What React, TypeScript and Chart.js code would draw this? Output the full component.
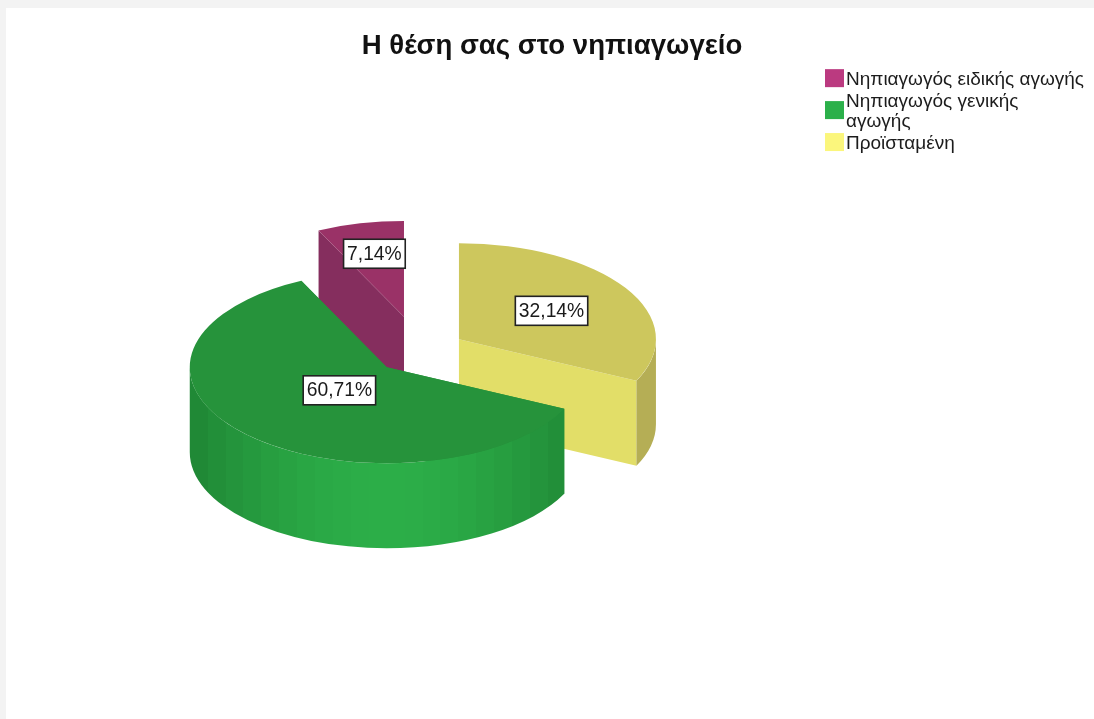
import React, { useEffect, useRef } from "react";
import { Chart, registerables } from "chart.js";

Chart.register(...registerables);

const TITLE = "Η θέση σας στο νηπιαγωγείο";
const LEGEND_LINES = [
  ["Νηπιαγωγός ειδικής αγωγής"],
  ["Νηπιαγωγός γενικής", "αγωγής"],
  ["Προϊσταμένη"],
];
const LEGEND_COLORS = ["#bb3a80", "#2bb04a", "#fbf67c"];

// Clockwise from 12 o'clock
const SLICE_NAMES = ["Προϊσταμένη", "Νηπιαγωγός γενικής αγωγής", "Νηπιαγωγός ειδικής αγωγής"];
const SLICE_VALUES = [32.14, 60.71, 7.14];

const TOP_COLORS = ["#cdc75d", "#26933b", "#9a3267"];
const FACE_COLORS = ["#e2de68", "#26933b", "#852e5e"];
const WALL_DARK = ["#b5ae55", "#1f8635", "#852e5e"];
const WALL_LIGHT = ["#b5ae55", "#2cae48", "#852e5e"];

const EXPLODE = [46, 47, 72];
const LABEL_FRACTION = [0.555, 0.34, 0.675];
const DRAW_ORDER = [2, 0, 1];

const TILT = 0.487;
const DEPTH = 85;
const RADIUS = 197;
const FONT = '"Liberation Sans", Arial, sans-serif';

function hexMix(a: string, b: string, t: number) {
  const p = (h: string, i: number) => parseInt(h.slice(i, i + 2), 16);
  const c = [1, 3, 5].map((i) => Math.round(p(a, i) + (p(b, i) - p(a, i)) * t));
  return `rgb(${c[0]},${c[1]},${c[2]})`;
}

const pie3d = {
  id: "pie3d",
  beforeDraw(chart: any) {
    // title is centred on the whole canvas, not on the plot area
    chart.titleBlock.left = 0;
    chart.titleBlock.right = chart.width;
  },
  beforeDatasetDraw(chart: any, args: any) {
    const ctx: CanvasRenderingContext2D = chart.ctx;
    const arcs = args.meta.data;
    const geo = arcs.map((el: any, i: number) => {
      const p = el.getProps(["x", "y", "startAngle", "endAngle", "outerRadius"], true);
      const mid = (p.startAngle + p.endAngle) / 2;
      return {
        ...p,
        mid,
        ax: p.x + Math.cos(mid) * EXPLODE[i],
        ay: p.y + Math.sin(mid) * EXPLODE[i] * TILT,
      };
    });

    const edge = (g: any, a: number) => [
      g.ax + Math.cos(a) * g.outerRadius,
      g.ay + Math.sin(a) * g.outerRadius * TILT,
    ];

    // sides, back to front
    DRAW_ORDER.forEach((i) => {
      const g = geo[i];
      ctx.fillStyle = FACE_COLORS[i];
      [g.startAngle, g.endAngle].forEach((a: number) => {
        const [ex, ey] = edge(g, a);
        ctx.beginPath();
        ctx.moveTo(g.ax, g.ay);
        ctx.lineTo(ex, ey);
        ctx.lineTo(ex, ey + DEPTH);
        ctx.lineTo(g.ax, g.ay + DEPTH);
        ctx.closePath();
        ctx.fill();
      });
      const a0 = Math.max(g.startAngle, 0);
      const a1 = Math.min(g.endAngle, Math.PI);
      if (a1 > a0) {
        const x0 = g.ax - g.outerRadius;
        const x1 = g.ax + g.outerRadius;
        const grad = ctx.createLinearGradient(x0, 0, x1, 0);
        const bands = 22;
        for (let b = 0; b < bands; b++) {
          const t = (b + 0.5) / bands;
          const c = hexMix(WALL_DARK[i], WALL_LIGHT[i], Math.sin(Math.PI * t));
          grad.addColorStop(b / bands, c);
          grad.addColorStop((b + 1) / bands, c);
        }
        ctx.fillStyle = grad;
        ctx.beginPath();
        ctx.ellipse(g.ax, g.ay, g.outerRadius, g.outerRadius * TILT, 0, a0, a1, false);
        ctx.ellipse(g.ax, g.ay + DEPTH, g.outerRadius, g.outerRadius * TILT, 0, a1, a0, true);
        ctx.closePath();
        ctx.fill();
      }
    });

    // top surfaces: the library's own arc elements, projected and exploded
    arcs.forEach((el: any, i: number) => {
      const g = geo[i];
      ctx.save();
      ctx.translate(g.ax, g.ay);
      ctx.scale(1, TILT);
      ctx.translate(-g.x, -g.y);
      el.draw(ctx);
      ctx.restore();
    });

    // value labels
    ctx.font = `19.3px ${FONT}`;
    ctx.textAlign = "center";
    ctx.textBaseline = "middle";
    SLICE_VALUES.forEach((v, i) => {
      const g = geo[i];
      const r = g.outerRadius * LABEL_FRACTION[i];
      const cx = g.ax + Math.cos(g.mid) * r;
      const cy = g.ay + Math.sin(g.mid) * r * TILT;
      const text = v.toFixed(2).replace(".", ",") + "%";
      const w = ctx.measureText(text).width + 7;
      const h = 29;
      ctx.fillStyle = "#ffffff";
      ctx.fillRect(cx - w / 2, cy - h / 2, w, h);
      ctx.strokeStyle = "#222222";
      ctx.lineWidth = 1.6;
      ctx.strokeRect(cx - w / 2, cy - h / 2, w, h);
      ctx.fillStyle = "#1a1a1a";
      ctx.fillText(text, cx, cy + 0.5);
    });

    return false;
  },
  afterDraw(chart: any) {
    const ctx: CanvasRenderingContext2D = chart.ctx;
    const swatchX = 819;
    const textX = 840;
    const lineH = 20.3;
    const gap = 1.5;
    let y = 62;
    ctx.save();
    ctx.font = `19px ${FONT}`;
    ctx.textAlign = "left";
    ctx.textBaseline = "middle";
    LEGEND_LINES.forEach((lines, i) => {
      const blockH = lines.length * lineH;
      const mid = y + blockH / 2 - 2;
      ctx.fillStyle = LEGEND_COLORS[i];
      ctx.fillRect(swatchX, mid - 9, 19, 18);
      ctx.fillStyle = "#1c1c1c";
      lines.forEach((ln, j) => ctx.fillText(ln, textX, y + lineH * (j + 0.5)));
      y += blockH + gap;
    });
    ctx.restore();
  },
};

export default function App() {
  const ref = useRef<HTMLCanvasElement>(null);
  useEffect(() => {
    document.body.style.margin = "0";
    document.body.style.background = "#f3f3f3";
    document.body.style.overflow = "hidden";
    const chart = new Chart(ref.current as HTMLCanvasElement, {
      type: "pie",
      data: {
        labels: SLICE_NAMES,
        datasets: [
          {
            data: SLICE_VALUES,
            backgroundColor: TOP_COLORS,
            borderWidth: 0,
            offset: 0,
          },
        ],
      },
      options: {
        responsive: false,
        animation: false,
        events: [],
        radius: RADIUS,
        layout: { padding: { left: 0, right: 264, top: 0, bottom: 84 } },
        plugins: {
          legend: { display: false },
          tooltip: { enabled: false },
          title: {
            display: true,
            text: TITLE,
            color: "#111111",
            font: { family: FONT, size: 27.6, weight: "bold" },
            padding: { top: 22, bottom: 4 },
          },
        },
      },
      plugins: [pie3d],
    } as any);
    return () => chart.destroy();
  }, []);
  return (
    <div style={{ position: "fixed", left: 0, top: 0, width: 1094, height: 719, overflow: "hidden", background: "#f3f3f3" }}>
      <canvas
        ref={ref}
        width={1092}
        height={711}
        style={{ position: "absolute", left: 6, top: 8, background: "#ffffff", display: "block", filter: "blur(0.4px)" }}
      />
    </div>
  );
}
